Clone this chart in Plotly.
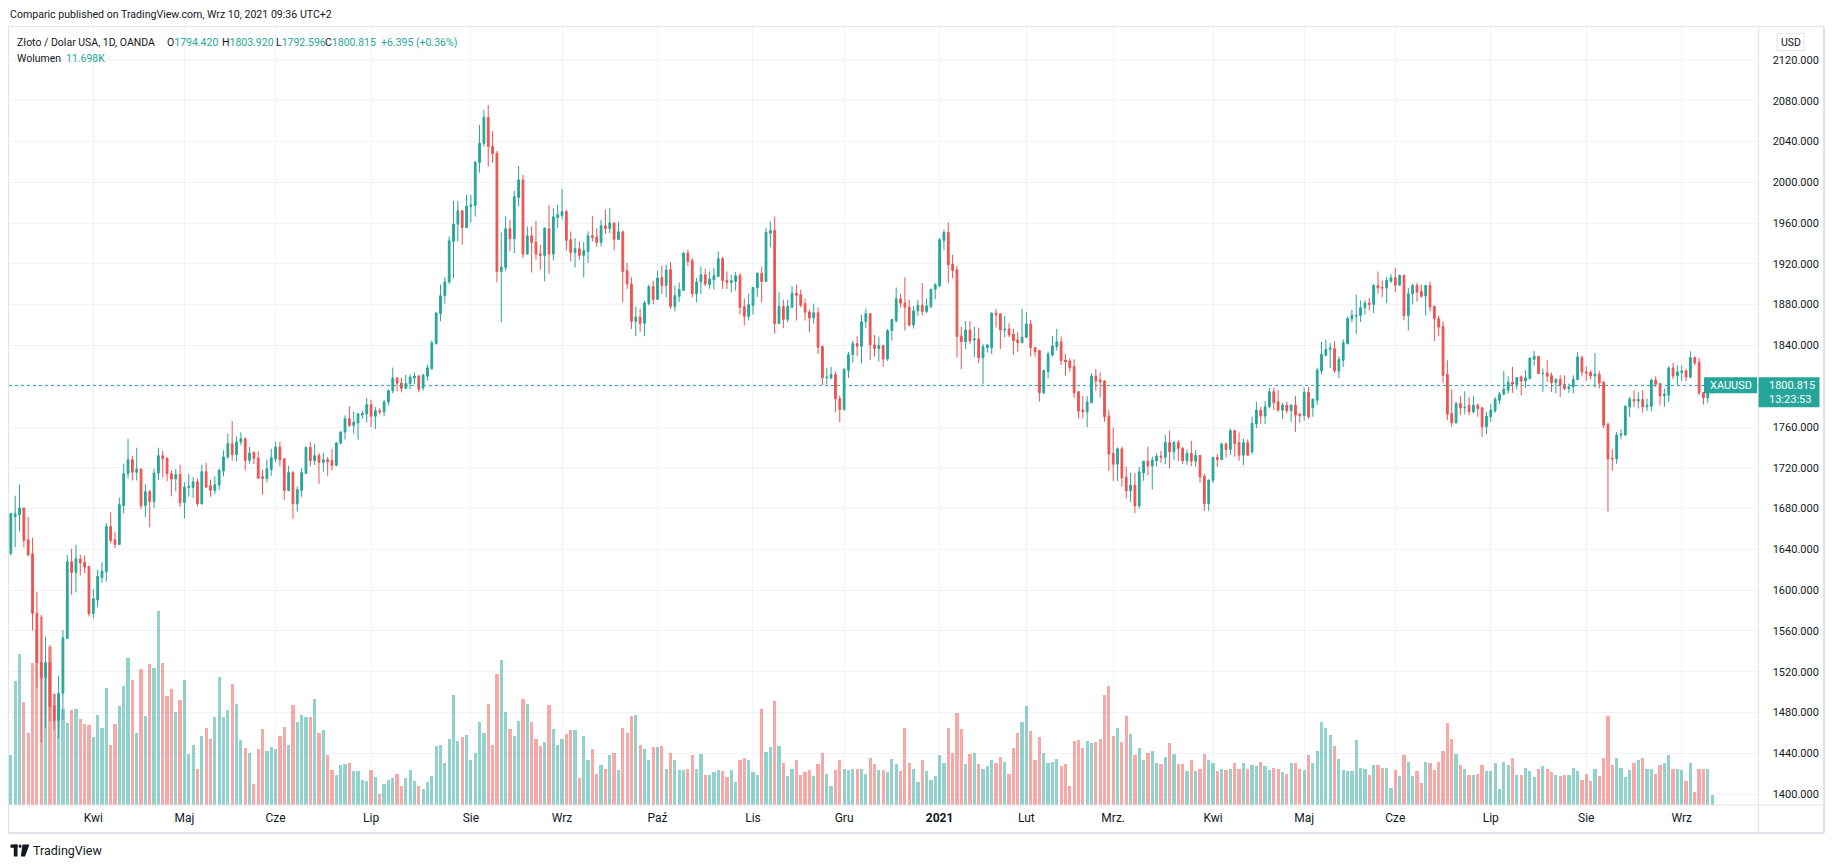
import pandas as pd
import plotly.graph_objects as go

# page body keeps the browser's default 8px margin -> figure is drawn 8px in from the corner
OFF = 8
W, H = 1834 - 2 * OFF, 868 - 2 * OFF

# ---------------- data ----------------
start_date, end_date = "2020-03-05", "2021-09-10"
holidays = ["2020-04-10", "2020-12-25", "2021-01-01", "2021-04-02"]
month_labels = ["Kwi", "Maj", "Cze", "Lip", "Sie", "Wrz", "Paź", "Lis", "Gru", "<b>2021</b>",
                "Lut", "Mrz.", "Kwi", "Maj", "Cze", "Lip", "Sie", "Wrz"]
price_ticks = [1400, 1440, 1480, 1520, 1560, 1600, 1640, 1680, 1720, 1760, 1800, 1840,
               1880, 1920, 1960, 2000, 2040, 2080, 2120]

open_ = [
    1636.0, 1672.0, 1673.9, 1680.5, 1649.4, 1635.7, 1577.4, 1529.3, 1514.3, 1528.7,
    1486.5, 1472.1, 1499.0, 1552.6, 1627.8, 1617.3, 1630.4, 1627.5, 1623.2, 1577.1,
    1590.5, 1612.4, 1618.3, 1662.5, 1649.4, 1644.8, 1683.1, 1714.2, 1727.9, 1715.5,
    1718.8, 1682.8, 1696.5, 1687.0, 1714.8, 1731.9, 1729.6, 1714.2, 1709.0, 1713.5,
    1686.0, 1700.8, 1700.8, 1706.3, 1684.7, 1716.2, 1702.4, 1697.8, 1703.1, 1716.8,
    1730.6, 1743.6, 1732.8, 1745.3, 1748.5, 1727.3, 1735.1, 1729.6, 1711.2, 1709.6,
    1718.4, 1728.9, 1740.4, 1728.9, 1697.8, 1715.2, 1684.7, 1697.8, 1714.5, 1740.0,
    1727.0, 1731.9, 1725.3, 1727.9, 1727.0, 1722.4, 1744.3, 1755.1, 1768.2, 1761.6,
    1764.0, 1771.8, 1772.8, 1781.9, 1770.5, 1776.0, 1774.7, 1784.5, 1795.5, 1808.0,
    1803.0, 1798.0, 1802.5, 1808.0, 1810.0, 1798.4, 1809.8, 1817.3, 1841.8, 1871.2,
    1888.8, 1902.2, 1942.0, 1958.9, 1972.0, 1955.7, 1976.2, 1977.2, 2019.3, 2037.9,
    2063.7, 2035.3, 2028.4, 1912.6, 1916.5, 1954.4, 1944.6, 1985.0, 2002.3, 1929.6,
    1947.5, 1941.3, 1929.9, 1928.3, 1954.4, 1929.6, 1965.5, 1967.4, 1971.3, 1943.6,
    1931.2, 1934.8, 1928.3, 1932.2, 1947.5, 1946.2, 1941.0, 1957.3, 1954.7, 1960.2,
    1944.0, 1951.4, 1913.3, 1900.2, 1863.6, 1867.9, 1861.7, 1881.0, 1897.6, 1885.2,
    1906.7, 1898.9, 1914.2, 1878.3, 1888.1, 1894.0, 1930.6, 1923.1, 1890.7, 1902.2,
    1909.3, 1899.6, 1904.4, 1907.7, 1925.0, 1903.8, 1901.8, 1902.8, 1908.4, 1878.0,
    1868.6, 1879.3, 1896.3, 1910.7, 1902.8, 1950.1, 1952.7, 1861.4, 1878.3, 1865.6,
    1877.3, 1891.1, 1889.8, 1881.0, 1872.8, 1866.9, 1872.1, 1838.9, 1808.2, 1808.2,
    1811.4, 1787.6, 1777.2, 1815.7, 1831.0, 1841.8, 1839.2, 1863.3, 1871.2, 1840.5,
    1836.9, 1839.8, 1826.7, 1854.6, 1864.4, 1885.7, 1881.4, 1877.5, 1860.1, 1873.9,
    1879.4, 1873.2, 1878.1, 1895.2, 1898.4, 1943.0, 1950.8, 1919.7, 1914.2, 1849.3,
    1843.7, 1855.2, 1845.4, 1846.4, 1828.0, 1837.8, 1837.8, 1871.6, 1870.9, 1855.2,
    1856.2, 1851.0, 1845.4, 1842.8, 1848.0, 1861.1, 1837.8, 1834.9, 1793.6, 1814.3,
    1830.6, 1838.8, 1843.4, 1825.7, 1824.8, 1819.2, 1794.6, 1776.6, 1775.0, 1783.8,
    1810.0, 1806.1, 1805.1, 1770.7, 1734.0, 1723.5, 1738.6, 1710.8, 1697.4, 1702.9,
    1682.6, 1715.0, 1726.5, 1721.9, 1726.8, 1731.4, 1730.4, 1744.8, 1735.7, 1744.8,
    1739.0, 1726.8, 1734.0, 1726.5, 1732.0, 1711.8, 1684.9, 1707.8, 1730.1, 1728.1,
    1743.2, 1738.0, 1756.3, 1744.5, 1732.4, 1744.8, 1735.7, 1762.9, 1776.6, 1770.7,
    1779.9, 1794.6, 1784.8, 1776.6, 1781.5, 1776.0, 1781.5, 1772.6, 1771.0, 1794.1,
    1778.8, 1786.3, 1815.0, 1830.3, 1836.2, 1836.8, 1815.0, 1825.4, 1841.7, 1866.2,
    1868.8, 1869.4, 1876.9, 1881.5, 1880.2, 1898.8, 1896.8, 1896.2, 1903.0, 1906.3,
    1899.1, 1908.6, 1869.4, 1890.6, 1898.8, 1893.0, 1888.4, 1898.8, 1878.3, 1866.2,
    1858.7, 1811.7, 1773.2, 1764.1, 1783.0, 1778.8, 1781.4, 1774.9, 1781.4, 1778.8,
    1760.2, 1770.0, 1775.8, 1786.3, 1792.2, 1796.1, 1803.9, 1801.9, 1809.1, 1805.2,
    1807.5, 1826.4, 1829.3, 1812.4, 1813.0, 1810.4, 1803.6, 1806.8, 1801.6, 1797.7,
    1799.3, 1806.5, 1828.0, 1814.0, 1813.4, 1810.1, 1811.7, 1803.9, 1762.8, 1729.2,
    1728.6, 1752.1, 1752.1, 1779.8, 1786.9, 1785.6, 1786.9, 1779.8, 1780.4, 1805.9,
    1802.6, 1790.5, 1791.2, 1817.9, 1810.1, 1813.4, 1815.0, 1809.1, 1828.0, 1823.5,
    1793.5, 1788.6, 1794.420,
]
high = [
    1676.0, 1692.6, 1703.4, 1681.0, 1671.7, 1651.4, 1598.4, 1575.8, 1554.2, 1546.3,
    1498.9, 1515.9, 1561.0, 1634.7, 1640.6, 1644.5, 1634.7, 1634.0, 1623.9, 1601.0,
    1620.0, 1627.2, 1665.8, 1676.2, 1657.6, 1690.6, 1724.0, 1748.5, 1731.9, 1739.7,
    1719.0, 1703.7, 1698.5, 1719.1, 1739.7, 1736.8, 1729.6, 1717.5, 1718.8, 1723.0,
    1705.7, 1714.2, 1711.0, 1709.6, 1723.0, 1724.7, 1708.3, 1711.6, 1719.4, 1737.1,
    1753.5, 1765.9, 1750.8, 1754.8, 1749.9, 1740.4, 1736.1, 1736.1, 1718.1, 1728.0,
    1738.7, 1745.6, 1745.6, 1729.0, 1722.0, 1716.8, 1701.8, 1719.8, 1741.0, 1745.3,
    1743.6, 1734.5, 1734.5, 1730.6, 1738.7, 1745.3, 1755.7, 1771.5, 1780.3, 1775.3,
    1773.7, 1776.0, 1788.5, 1786.8, 1779.6, 1778.5, 1786.8, 1797.0, 1818.3, 1809.0,
    1808.0, 1811.0, 1811.5, 1813.5, 1811.0, 1812.1, 1821.2, 1844.7, 1872.8, 1899.6,
    1907.1, 1946.9, 1981.8, 1981.8, 1972.3, 1987.6, 1987.6, 2020.9, 2056.2, 2070.9,
    2075.8, 2050.3, 2030.7, 1950.8, 1967.1, 1963.2, 1991.6, 2016.0, 2007.2, 1956.6,
    1956.6, 1962.2, 1938.7, 1955.7, 1977.9, 1974.6, 1977.9, 1993.5, 1973.0, 1951.8,
    1945.3, 1942.0, 1941.3, 1951.8, 1967.1, 1955.0, 1963.2, 1973.0, 1974.9, 1960.5,
    1961.5, 1952.4, 1920.8, 1906.7, 1878.0, 1876.0, 1883.9, 1899.6, 1903.5, 1913.3,
    1918.1, 1919.1, 1921.8, 1898.6, 1901.8, 1931.2, 1933.8, 1925.7, 1906.1, 1917.5,
    1915.2, 1912.6, 1915.9, 1932.2, 1927.0, 1912.6, 1909.3, 1912.0, 1911.0, 1885.9,
    1890.7, 1897.0, 1911.6, 1917.2, 1955.0, 1961.5, 1966.4, 1892.1, 1884.9, 1884.9,
    1898.0, 1899.6, 1894.7, 1885.9, 1875.1, 1881.0, 1877.3, 1839.8, 1818.0, 1819.0,
    1814.7, 1790.9, 1818.0, 1833.6, 1844.7, 1849.0, 1869.8, 1876.0, 1871.5, 1850.3,
    1848.7, 1840.8, 1856.2, 1866.0, 1896.8, 1890.6, 1906.9, 1884.7, 1878.8, 1884.7,
    1901.1, 1886.3, 1895.2, 1901.1, 1945.3, 1953.5, 1960.7, 1928.9, 1918.1, 1858.5,
    1864.0, 1864.0, 1858.5, 1857.5, 1841.4, 1841.4, 1872.6, 1875.8, 1871.6, 1869.0,
    1861.8, 1856.2, 1852.9, 1875.8, 1872.9, 1865.0, 1838.8, 1835.6, 1816.6, 1833.9,
    1849.3, 1856.2, 1848.7, 1831.6, 1827.4, 1826.4, 1795.6, 1790.4, 1790.4, 1812.6,
    1816.9, 1813.6, 1806.1, 1776.6, 1759.6, 1739.9, 1740.6, 1720.9, 1715.0, 1715.0,
    1720.9, 1726.5, 1740.6, 1730.8, 1734.0, 1736.6, 1752.0, 1756.3, 1746.5, 1747.1,
    1740.6, 1737.9, 1746.5, 1737.3, 1732.7, 1714.4, 1708.5, 1730.8, 1733.4, 1744.8,
    1744.8, 1758.6, 1757.6, 1754.7, 1748.8, 1747.8, 1770.1, 1784.8, 1779.9, 1785.4,
    1798.5, 1798.5, 1796.2, 1783.8, 1784.8, 1782.2, 1790.4, 1773.9, 1798.7, 1799.3,
    1787.9, 1818.2, 1843.4, 1845.6, 1842.4, 1844.0, 1829.3, 1846.0, 1868.5, 1875.0,
    1890.0, 1884.1, 1884.1, 1886.7, 1900.4, 1912.5, 1903.7, 1907.0, 1910.2, 1916.1,
    1909.6, 1909.6, 1896.2, 1900.4, 1901.4, 1899.4, 1899.4, 1902.7, 1879.3, 1869.4,
    1863.6, 1825.4, 1796.7, 1784.7, 1790.5, 1795.1, 1789.5, 1790.5, 1783.0, 1779.8,
    1774.9, 1783.0, 1789.5, 1794.4, 1815.0, 1809.8, 1818.9, 1809.1, 1810.7, 1815.6,
    1828.0, 1834.6, 1829.5, 1817.3, 1825.4, 1813.4, 1807.5, 1810.7, 1810.7, 1802.6,
    1810.7, 1833.3, 1830.0, 1819.5, 1815.6, 1832.6, 1815.0, 1804.9, 1764.4, 1738.0,
    1755.3, 1757.9, 1781.4, 1789.5, 1796.1, 1794.4, 1796.1, 1787.9, 1807.5, 1809.8,
    1803.2, 1797.7, 1819.5, 1823.1, 1820.5, 1820.5, 1817.3, 1834.2, 1829.3, 1827.7,
    1794.4, 1794.4, 1803.920,
]
low = [
    1634.0, 1642.0, 1657.6, 1642.0, 1633.0, 1560.4, 1504.5, 1450.5, 1465.2, 1471.1,
    1462.9, 1454.4, 1472.7, 1552.0, 1595.4, 1597.7, 1614.4, 1616.7, 1574.2, 1572.2,
    1583.3, 1607.5, 1608.5, 1645.8, 1641.2, 1644.2, 1675.3, 1709.6, 1707.6, 1707.6,
    1679.5, 1671.7, 1661.5, 1680.5, 1708.0, 1710.6, 1706.7, 1692.0, 1696.8, 1681.5,
    1670.3, 1691.6, 1690.6, 1682.1, 1683.8, 1700.4, 1691.6, 1694.2, 1698.5, 1711.6,
    1728.6, 1727.0, 1726.3, 1742.0, 1717.5, 1724.0, 1723.7, 1709.0, 1693.6, 1705.7,
    1712.2, 1725.6, 1721.4, 1688.7, 1696.9, 1670.0, 1676.9, 1691.6, 1714.2, 1721.4,
    1722.7, 1704.4, 1716.2, 1712.2, 1717.5, 1721.4, 1742.7, 1747.6, 1760.0, 1753.5,
    1747.6, 1768.0, 1764.6, 1760.0, 1758.0, 1772.0, 1770.5, 1781.0, 1793.0, 1795.0,
    1794.0, 1797.0, 1797.0, 1802.0, 1794.0, 1795.8, 1805.6, 1815.7, 1840.8, 1863.7,
    1881.0, 1900.2, 1906.1, 1942.0, 1938.7, 1955.0, 1960.6, 1966.4, 2009.5, 2035.0,
    2015.4, 2019.3, 1901.8, 1862.7, 1913.3, 1932.2, 1930.6, 1976.2, 1925.7, 1928.9,
    1911.6, 1924.0, 1914.2, 1902.8, 1910.3, 1923.4, 1955.0, 1963.8, 1933.2, 1922.4,
    1916.5, 1924.0, 1906.7, 1920.8, 1942.0, 1937.1, 1937.1, 1949.2, 1950.1, 1933.2,
    1943.3, 1882.3, 1895.3, 1856.1, 1849.0, 1853.2, 1849.0, 1879.3, 1880.6, 1885.0,
    1890.4, 1887.2, 1875.7, 1873.4, 1882.6, 1893.7, 1918.1, 1887.2, 1882.3, 1890.4,
    1898.0, 1895.6, 1894.7, 1907.0, 1895.3, 1895.3, 1892.1, 1893.7, 1870.2, 1859.7,
    1864.6, 1870.2, 1887.5, 1882.3, 1902.0, 1936.1, 1851.3, 1861.0, 1856.8, 1862.7,
    1877.0, 1864.3, 1877.3, 1864.3, 1852.9, 1861.4, 1831.7, 1801.0, 1801.7, 1806.6,
    1774.6, 1764.8, 1776.2, 1808.2, 1823.5, 1829.4, 1822.5, 1857.1, 1825.5, 1829.0,
    1824.1, 1819.2, 1824.8, 1844.7, 1862.4, 1877.2, 1854.6, 1858.5, 1856.5, 1869.0,
    1869.3, 1871.6, 1876.5, 1885.3, 1897.1, 1933.8, 1901.1, 1906.0, 1828.0, 1816.9,
    1836.5, 1841.4, 1828.4, 1822.5, 1802.2, 1833.0, 1831.6, 1857.5, 1836.5, 1848.0,
    1848.0, 1830.6, 1833.9, 1842.1, 1847.0, 1829.0, 1829.0, 1784.8, 1792.0, 1807.7,
    1829.0, 1834.9, 1820.8, 1810.3, 1814.3, 1788.7, 1768.4, 1768.4, 1759.9, 1783.2,
    1795.6, 1789.1, 1765.1, 1717.0, 1707.2, 1707.2, 1701.3, 1689.8, 1686.5, 1675.7,
    1680.0, 1707.2, 1712.7, 1698.7, 1721.6, 1724.9, 1723.5, 1719.3, 1727.5, 1726.8,
    1723.5, 1722.6, 1721.6, 1720.9, 1705.2, 1677.7, 1677.7, 1705.2, 1720.9, 1727.5,
    1730.1, 1732.4, 1730.8, 1726.8, 1722.6, 1731.4, 1733.4, 1758.6, 1762.9, 1762.9,
    1778.2, 1776.6, 1774.9, 1767.8, 1773.3, 1764.8, 1755.3, 1764.1, 1766.0, 1768.0,
    1770.0, 1781.4, 1811.7, 1829.3, 1817.9, 1813.0, 1808.1, 1818.9, 1841.1, 1862.9,
    1851.5, 1862.9, 1870.1, 1874.3, 1871.7, 1890.6, 1887.4, 1881.5, 1901.4, 1892.3,
    1898.8, 1864.6, 1854.8, 1880.2, 1883.1, 1886.7, 1869.4, 1873.3, 1844.3, 1848.9,
    1803.3, 1766.7, 1760.2, 1763.5, 1771.6, 1772.6, 1771.6, 1773.2, 1770.0, 1750.4,
    1753.0, 1765.1, 1773.9, 1782.4, 1791.0, 1792.8, 1793.5, 1796.7, 1791.2, 1798.4,
    1806.8, 1819.9, 1811.7, 1794.4, 1804.2, 1794.4, 1792.8, 1789.5, 1796.1, 1793.5,
    1792.8, 1805.8, 1809.8, 1805.2, 1806.5, 1798.7, 1797.7, 1758.6, 1677.1, 1717.2,
    1724.0, 1747.8, 1751.4, 1770.0, 1779.8, 1778.1, 1773.9, 1775.9, 1775.5, 1799.3,
    1781.4, 1779.8, 1784.7, 1806.8, 1801.0, 1804.9, 1804.9, 1807.5, 1820.5, 1791.2,
    1782.1, 1783.7, 1792.596,
]
close = [
    1675.0, 1675.0, 1680.5, 1648.8, 1634.7, 1577.1, 1529.0, 1514.3, 1529.0, 1485.8,
    1472.1, 1498.9, 1553.2, 1627.8, 1617.3, 1630.8, 1626.8, 1622.6, 1577.1, 1591.5,
    1613.4, 1618.6, 1662.5, 1648.8, 1644.8, 1683.8, 1714.2, 1727.9, 1715.5, 1718.8,
    1682.8, 1696.5, 1687.0, 1714.8, 1731.9, 1729.2, 1714.2, 1709.0, 1713.5, 1686.0,
    1701.0, 1701.8, 1706.3, 1684.7, 1716.2, 1701.0, 1697.8, 1703.4, 1717.5, 1730.6,
    1743.6, 1732.8, 1745.3, 1748.5, 1727.3, 1734.5, 1729.2, 1710.0, 1709.6, 1719.1,
    1729.9, 1740.4, 1727.9, 1697.8, 1715.2, 1684.7, 1698.5, 1715.2, 1740.0, 1727.0,
    1731.9, 1725.3, 1727.9, 1726.0, 1722.4, 1744.3, 1755.1, 1768.2, 1761.6, 1764.6,
    1772.8, 1773.1, 1781.9, 1770.5, 1776.0, 1774.7, 1784.5, 1795.5, 1808.0, 1803.0,
    1798.0, 1802.5, 1809.0, 1810.0, 1797.0, 1810.8, 1818.0, 1842.5, 1871.8, 1888.8,
    1902.2, 1942.6, 1958.9, 1972.0, 1955.7, 1976.6, 1977.9, 2019.6, 2038.2, 2063.7,
    2035.0, 2028.1, 1912.6, 1916.8, 1954.4, 1944.6, 1985.7, 2002.3, 1929.6, 1947.5,
    1941.0, 1929.6, 1928.3, 1955.0, 1929.6, 1966.1, 1968.1, 1971.3, 1943.0, 1931.2,
    1934.8, 1928.3, 1932.8, 1947.5, 1945.9, 1941.0, 1957.3, 1954.7, 1960.2, 1944.0,
    1951.4, 1912.6, 1900.2, 1863.6, 1867.9, 1861.7, 1881.6, 1897.6, 1885.2, 1906.1,
    1898.9, 1913.9, 1878.3, 1888.8, 1894.7, 1930.6, 1922.4, 1890.7, 1902.2, 1909.3,
    1900.2, 1905.1, 1908.4, 1925.0, 1903.5, 1901.8, 1903.5, 1908.4, 1877.3, 1868.6,
    1880.0, 1897.0, 1910.7, 1902.8, 1950.8, 1952.7, 1861.4, 1878.3, 1865.6, 1878.3,
    1891.1, 1889.1, 1879.3, 1872.5, 1866.9, 1872.1, 1838.2, 1808.2, 1808.8, 1811.4,
    1787.6, 1777.2, 1816.3, 1831.0, 1841.8, 1839.2, 1863.3, 1871.2, 1840.5, 1836.9,
    1839.8, 1826.7, 1854.6, 1865.4, 1885.7, 1881.4, 1877.5, 1860.1, 1873.9, 1879.4,
    1873.2, 1878.8, 1895.2, 1899.4, 1943.6, 1950.8, 1919.1, 1913.5, 1848.7, 1843.7,
    1855.2, 1844.4, 1846.4, 1828.0, 1838.8, 1840.5, 1871.6, 1870.0, 1855.2, 1855.9,
    1850.3, 1844.7, 1842.8, 1848.0, 1861.1, 1837.8, 1833.9, 1793.6, 1815.3, 1831.6,
    1839.5, 1843.4, 1825.1, 1823.8, 1818.2, 1793.6, 1775.6, 1775.0, 1784.5, 1810.0,
    1805.1, 1804.4, 1770.1, 1733.4, 1723.5, 1738.6, 1710.1, 1697.4, 1702.9, 1682.6,
    1716.0, 1726.5, 1721.9, 1727.5, 1731.4, 1730.4, 1744.8, 1735.7, 1744.8, 1739.0,
    1726.8, 1734.0, 1726.5, 1732.0, 1711.1, 1684.9, 1707.8, 1730.1, 1728.1, 1743.2,
    1738.0, 1756.3, 1743.9, 1732.4, 1744.8, 1732.4, 1763.5, 1776.6, 1770.7, 1779.9,
    1794.6, 1783.8, 1776.6, 1781.5, 1776.0, 1781.5, 1771.7, 1771.0, 1794.1, 1770.0,
    1787.3, 1815.6, 1831.3, 1836.2, 1837.5, 1815.0, 1826.4, 1842.7, 1866.2, 1869.4,
    1869.4, 1876.9, 1881.5, 1880.2, 1898.8, 1896.5, 1896.2, 1903.7, 1906.3, 1899.1,
    1908.6, 1869.4, 1890.6, 1898.8, 1892.3, 1888.1, 1898.8, 1877.6, 1866.2, 1858.0,
    1810.7, 1772.6, 1764.1, 1783.0, 1778.8, 1779.1, 1774.9, 1781.4, 1778.1, 1760.2,
    1770.6, 1776.5, 1787.3, 1792.2, 1797.0, 1803.9, 1801.9, 1808.5, 1805.2, 1808.1,
    1827.7, 1829.3, 1812.4, 1812.7, 1809.8, 1803.6, 1806.8, 1801.0, 1797.7, 1799.3,
    1806.8, 1828.7, 1814.0, 1813.0, 1810.1, 1811.7, 1803.2, 1761.8, 1728.6, 1728.6,
    1752.1, 1753.0, 1780.4, 1787.3, 1785.6, 1786.9, 1779.8, 1781.4, 1805.9, 1801.9,
    1790.5, 1792.2, 1817.9, 1810.1, 1814.0, 1815.0, 1809.1, 1828.0, 1822.8, 1793.5,
    1788.6, 1793.5, 1800.815,
]
volume_k = [
    59, 145, 177, 121, 85, 167, 205, 220, 150, 185,
    130, 126, 113, 96, 112, 113, 101, 95, 94, 80,
    106, 91, 137, 71, 95, 116, 139, 172, 147, 85,
    159, 105, 165, 161, 227, 167, 128, 136, 109, 123,
    146, 60, 71, 43, 81, 90, 78, 103, 150, 103,
    111, 142, 119, 76, 67, 61, 25, 66, 89, 63,
    68, 66, 81, 92, 71, 117, 97, 106, 103, 103,
    124, 85, 88, 59, 41, 36, 47, 48, 50, 40,
    40, 30, 29, 41, 33, 13, 25, 30, 32, 37,
    22, 32, 41, 29, 22, 19, 27, 34, 69, 71,
    50, 78, 129, 75, 80, 82, 53, 61, 98, 84,
    119, 70, 154, 170, 109, 89, 81, 99, 124, 118,
    97, 78, 69, 74, 117, 89, 71, 78, 83, 88,
    88, 32, 81, 53, 66, 37, 47, 43, 59, 61,
    41, 90, 85, 104, 106, 70, 66, 53, 68, 68,
    69, 43, 61, 53, 41, 41, 43, 59, 43, 60,
    35, 36, 39, 41, 40, 33, 41, 27, 53, 55,
    53, 39, 36, 113, 62, 68, 122, 69, 49, 34,
    43, 53, 36, 39, 41, 34, 48, 61, 37, 22,
    41, 53, 42, 41, 42, 42, 43, 37, 55, 48,
    41, 41, 39, 54, 48, 40, 90, 50, 43, 27,
    53, 40, 30, 34, 59, 49, 91, 61, 108, 89,
    48, 60, 61, 48, 43, 46, 53, 49, 57, 51,
    37, 67, 84, 97, 116, 87, 53, 80, 61, 50,
    51, 54, 46, 48, 23, 75, 76, 67, 75, 73,
    74, 77, 129, 139, 81, 91, 74, 104, 83, 59,
    67, 53, 61, 63, 50, 48, 57, 73, 60, 48,
    48, 40, 53, 40, 43, 60, 53, 50, 40, 42,
    41, 43, 49, 42, 50, 43, 47, 46, 51, 46,
    41, 44, 43, 39, 37, 50, 50, 43, 41, 59,
    49, 63, 98, 90, 82, 69, 54, 41, 40, 40,
    76, 44, 43, 35, 47, 47, 44, 44, 20, 41,
    34, 59, 51, 34, 40, 26, 51, 49, 41, 51,
    64, 96, 77, 60, 47, 43, 36, 36, 37, 47,
    40, 40, 49, 19, 51, 47, 55, 36, 36, 44,
    40, 33, 42, 46, 43, 39, 35, 34, 36, 35,
    44, 40, 30, 37, 28, 42, 34, 55, 104, 47,
    55, 44, 33, 41, 49, 53, 55, 42, 43, 37,
    47, 49, 59, 43, 42, 41, 28, 49, 16, 43,
    43, 43, 11.698,
]

# trading days (weekdays minus market holidays)
dates = [d.strftime("%Y-%m-%d") for d in pd.bdate_range(start_date, end_date)
         if d.strftime("%Y-%m-%d") not in holidays]
n = min(len(dates), len(open_), len(high), len(low), len(close), len(volume_k))
dates, open_, high, low, close, volume_k = (dates[:n], open_[:n], high[:n], low[:n],
                                            close[:n], volume_k[:n])

# first trading day of each month (from April 2020) -> month gridlines / labels
tickvals, seen = [], set()
for d in dates:
    if d[:7] not in seen:
        seen.add(d[:7])
        if d[:7] != "2020-03":
            tickvals.append(d)

last_price = close[-1]
# the 1800 label sits under the last-price box, so it is left blank (gridline stays)
price_text = ["" if abs(v - last_price) < 20 else "{:.3f}".format(v) for v in price_ticks]

# ---------------- style ----------------
UP, DOWN = "#26a69a", "#ef5350"
UP_V, DOWN_V = "rgba(38,166,154,0.5)", "rgba(239,83,80,0.5)"
TXT = "#131722"
GRID = "#f0f3fa"
FRAME = "#e0e3eb"
FONT = "Roboto"

X_LEFT, X_RIGHT = 9.0, 1758.7      # plot area (page px)
Y_TOP, Y_BOT = 26.7, 805.0
SLOT0, SLOT = 10.84, 4.34          # page px of first candle, px per candle


def fx(px):
    return (px - OFF) / W


def fy(py):
    return 1 - (py - OFF) / H


x_range = [(X_LEFT - SLOT0) / SLOT, (X_RIGHT - SLOT0) / SLOT]
# price scale: 1440 at y=753.3 px, 1.0197 px per USD
p_bot = 1440 - (Y_BOT - 753.3) / 1.0197
p_top = 1440 + (753.3 - Y_TOP) / 1.0197
vol_top = (Y_BOT - Y_TOP) * 1.1698  # 11.698K -> 10 px

vol_colors = [UP_V if c >= o else DOWN_V for o, c in zip(open_, close)]

fig = go.Figure()
fig.add_trace(go.Bar(
    x=dates, y=volume_k, marker=dict(color=vol_colors, line=dict(width=0)),
    width=0.74, xaxis="x", yaxis="y", hoverinfo="skip", showlegend=False))
fig.add_trace(go.Candlestick(
    x=dates, open=open_, high=high, low=low, close=close,
    increasing=dict(line=dict(color=UP, width=1), fillcolor=UP),
    decreasing=dict(line=dict(color=DOWN, width=1), fillcolor=DOWN),
    whiskerwidth=0, xaxis="x", yaxis="y2", showlegend=False))

shapes = []


def hline(y, x0, x1, color=FRAME, width=1, dash="solid"):
    shapes.append(dict(type="line", xref="paper", yref="paper", x0=fx(x0), x1=fx(x1),
                       y0=fy(y), y1=fy(y), line=dict(color=color, width=width, dash=dash)))


def vline(x, y0, y1, color=FRAME, width=1):
    shapes.append(dict(type="line", xref="paper", yref="paper", x0=fx(x), x1=fx(x),
                       y0=fy(y0), y1=fy(y1), line=dict(color=color, width=width)))


def rect(x0, y0, x1, y1, fill, line_color=None, lw=0):
    shapes.append(dict(type="rect", xref="paper", yref="paper", x0=fx(x0), x1=fx(x1),
                       y0=fy(y0), y1=fy(y1), fillcolor=fill,
                       line=dict(color=line_color or fill, width=lw)))


# chart frame
hline(Y_TOP, 8.5, 1824)
hline(Y_BOT, 8.5, 1824)
hline(833, 8.5, 1824, width=2)
vline(8.5, Y_TOP, 833)
vline(X_RIGHT, Y_TOP, 833)
vline(1824, Y_TOP, 833, width=2)

# last price dotted line
shapes.append(dict(type="line", xref="paper", yref="y2", x0=fx(X_LEFT), x1=fx(X_RIGHT),
                   y0=last_price, y1=last_price, line=dict(color=UP, width=1, dash="dot")))

# price labels (symbol + axis)
rect(1704, 377.3, 1757, 393.3, UP)
rect(1758.5, 377.3, 1819.5, 407.3, UP)
# USD box
shapes.append(dict(type="rect", xref="paper", yref="paper", x0=fx(1777), x1=fx(1804),
                   y0=fy(33.3), y1=fy(50.7), fillcolor="white",
                   line=dict(color=FRAME, width=1)))

# TradingView logo glyph
rect(10.5, 844.5, 17.5, 847.8, TXT)
rect(13.8, 844.5, 17.5, 856.5, TXT)
shapes.append(dict(type="circle", xref="paper", yref="paper", x0=fx(18.6), x1=fx(21.6),
                   y0=fy(844.5), y1=fy(847.8), fillcolor=TXT, line=dict(width=0)))
shapes.append(dict(type="path", xref="paper", yref="paper",
                   path="M {} {} L {} {} L {} {} L {} {} Z".format(
                       fx(22.5), fy(844.5), fx(29.5), fy(844.5), fx(25.0), fy(856.5),
                       fx(20.8), fy(856.5)),
                   fillcolor=TXT, line=dict(width=0)))

ann = []


def text(x, y, s, size=12, color=TXT, xanchor="left"):
    ann.append(dict(xref="paper", yref="paper", x=fx(x), y=fy(y), text=s, showarrow=False,
                    xanchor=xanchor, yanchor="middle", font=dict(family=FONT, size=size,
                                                                 color=color)))


def teal(s):
    return "<span style='color:{}'>{}</span>".format(UP, s)


text(7.5, 15, "Comparic published on TradingView.com, Wrz 10, 2021 09:36 UTC+2", 10.6)
LEG = 10.5
text(14.5, 42.3, "Złoto / Dolar USA, 1D, OANDA", LEG)
text(164.5, 42.3, "O" + teal("1794.420"), LEG)
text(219.8, 42.3, "H" + teal("1803.920"), LEG)
text(273.8, 42.3, "L" + teal("1792.596"), LEG)
text(322.8, 42.3, "C" + teal("1800.815"), LEG)
text(378.8, 42.3, teal("+6.395 (+0.36%)"), LEG)
text(14.5, 58.3, "Wolumen", LEG)
text(63.8, 58.3, teal("11.698K"), LEG)

text(1730.5, 385.5, "XAUUSD", 11, "white", "center")
text(1766.5, 385.7, "{:.3f}".format(last_price), 11, "white")
text(1766.5, 399.3, "13:23:53", 11, "white")
text(1790.5, 42.0, "USD", 10.5, TXT, "center")
text(31.0, 850.7, "TradingView", 12.5, TXT)

fig.update_layout(
    width=W, height=H,
    margin=dict(l=0, r=0, t=0, b=0, pad=0),
    paper_bgcolor="white", plot_bgcolor="white",
    boxgap=0.42,
    bargap=0,
    xaxis=dict(
        type="category", domain=[fx(X_LEFT), fx(X_RIGHT)], range=x_range,
        tickmode="array", tickvals=tickvals, ticktext=month_labels[:len(tickvals)],
        showgrid=True, gridcolor=GRID, gridwidth=1, ticks="", showline=False,
        zeroline=False, rangeslider=dict(visible=False),
        tickfont=dict(family=FONT, size=12, color=TXT), ticklabelstandoff=4,
        fixedrange=True),
    yaxis=dict(
        domain=[fy(Y_BOT), fy(Y_TOP)], range=[0, vol_top], visible=False,
        showgrid=False, fixedrange=True),
    yaxis2=dict(
        overlaying="y", side="right", anchor="x", range=[p_bot, p_top],
        tickmode="array", tickvals=price_ticks, ticktext=price_text,
        showgrid=True, gridcolor=GRID, gridwidth=1, ticks="", showline=False,
        zeroline=False, tickfont=dict(family=FONT, size=11, color=TXT),
        ticklabelstandoff=13, fixedrange=True),
    shapes=shapes,
    annotations=ann,
    showlegend=False,
    hovermode=False,
)

fig.write_html("out.html", config={"displayModeBar": False})
